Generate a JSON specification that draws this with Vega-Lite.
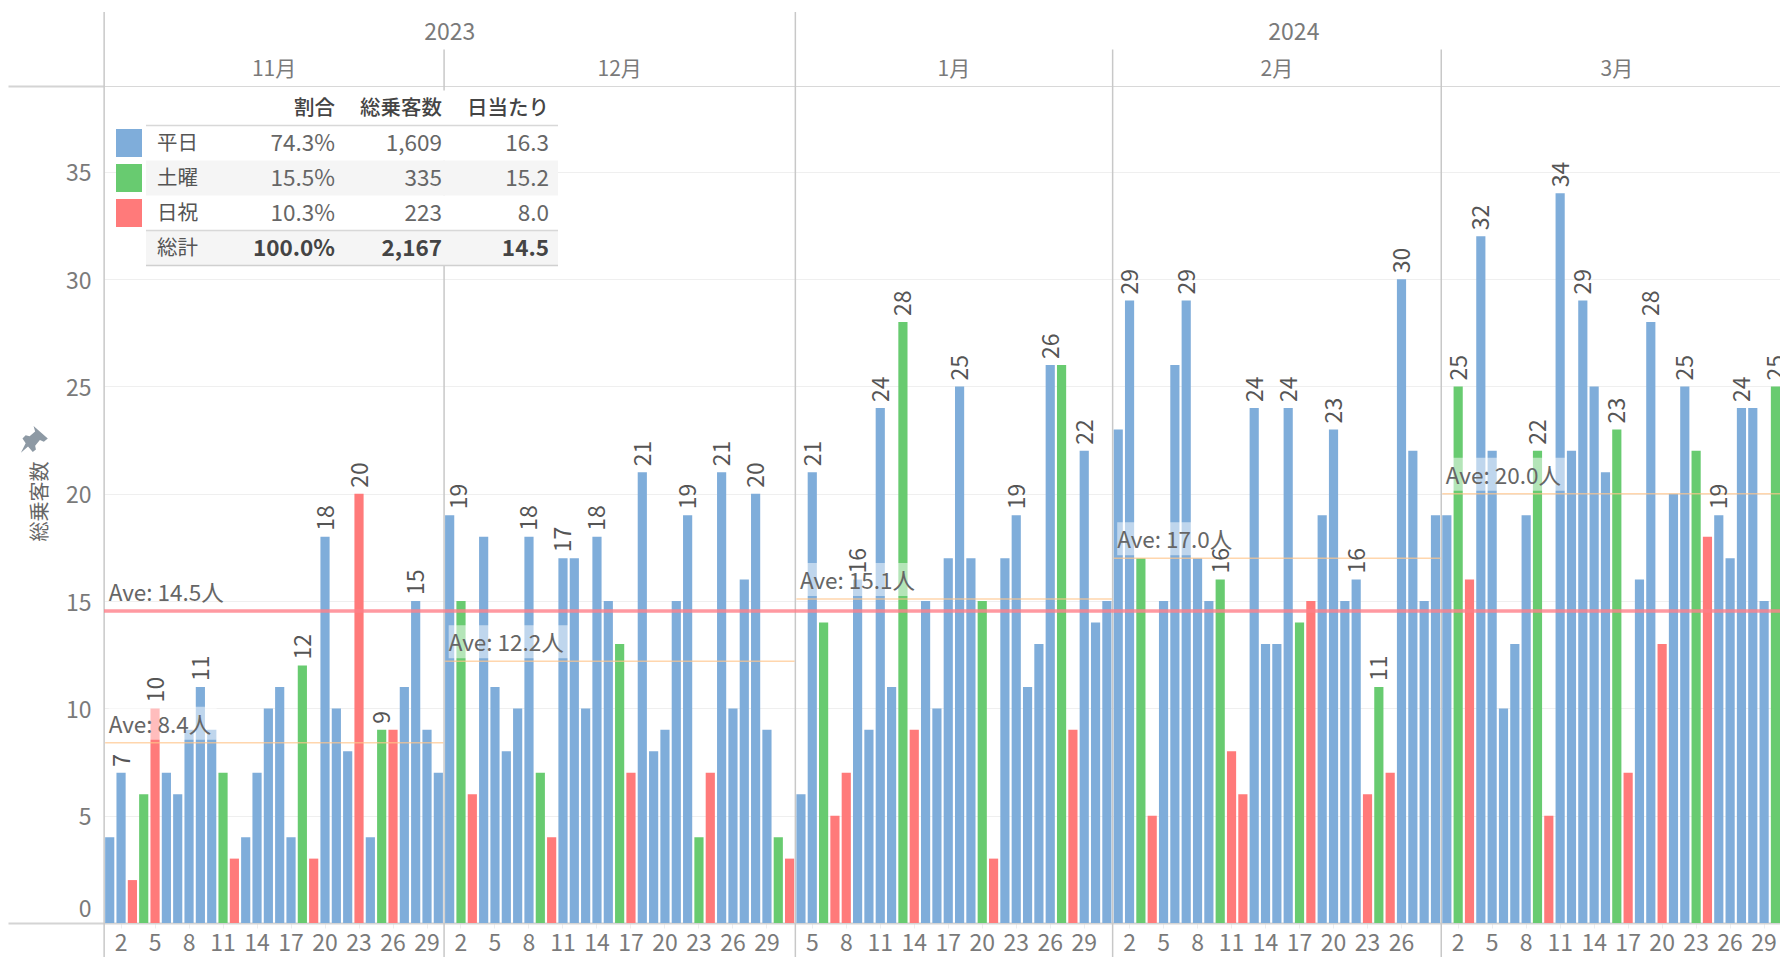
{"$schema":"https://vega.github.io/schema/vega-lite/v6.json","autosize":"none","width":1676,"height":837,"padding":{"left":104,"top":86,"right":0,"bottom":34},"background":"white","config":{"font":"Noto Sans CJK JP","view":{"stroke":null}},"datasets":{"days":[{"day":"2023-11-01","n":4,"k":"平日"},{"day":"2023-11-02","n":7,"k":"平日","lab":1},{"day":"2023-11-03","n":2,"k":"日祝"},{"day":"2023-11-04","n":6,"k":"土曜"},{"day":"2023-11-05","n":10,"k":"日祝","lab":1},{"day":"2023-11-06","n":7,"k":"平日"},{"day":"2023-11-07","n":6,"k":"平日"},{"day":"2023-11-08","n":9,"k":"平日"},{"day":"2023-11-09","n":11,"k":"平日","lab":1},{"day":"2023-11-10","n":9,"k":"平日"},{"day":"2023-11-11","n":7,"k":"土曜"},{"day":"2023-11-12","n":3,"k":"日祝"},{"day":"2023-11-13","n":4,"k":"平日"},{"day":"2023-11-14","n":7,"k":"平日"},{"day":"2023-11-15","n":10,"k":"平日"},{"day":"2023-11-16","n":11,"k":"平日"},{"day":"2023-11-17","n":4,"k":"平日"},{"day":"2023-11-18","n":12,"k":"土曜","lab":1},{"day":"2023-11-19","n":3,"k":"日祝"},{"day":"2023-11-20","n":18,"k":"平日","lab":1},{"day":"2023-11-21","n":10,"k":"平日"},{"day":"2023-11-22","n":8,"k":"平日"},{"day":"2023-11-23","n":20,"k":"日祝","lab":1},{"day":"2023-11-24","n":4,"k":"平日"},{"day":"2023-11-25","n":9,"k":"土曜","lab":1},{"day":"2023-11-26","n":9,"k":"日祝"},{"day":"2023-11-27","n":11,"k":"平日"},{"day":"2023-11-28","n":15,"k":"平日","lab":1},{"day":"2023-11-29","n":9,"k":"平日"},{"day":"2023-11-30","n":7,"k":"平日"},{"day":"2023-12-01","n":19,"k":"平日","lab":2},{"day":"2023-12-02","n":15,"k":"土曜"},{"day":"2023-12-03","n":6,"k":"日祝"},{"day":"2023-12-04","n":18,"k":"平日"},{"day":"2023-12-05","n":11,"k":"平日"},{"day":"2023-12-06","n":8,"k":"平日"},{"day":"2023-12-07","n":10,"k":"平日"},{"day":"2023-12-08","n":18,"k":"平日","lab":1},{"day":"2023-12-09","n":7,"k":"土曜"},{"day":"2023-12-10","n":4,"k":"日祝"},{"day":"2023-12-11","n":17,"k":"平日","lab":1},{"day":"2023-12-12","n":17,"k":"平日"},{"day":"2023-12-13","n":10,"k":"平日"},{"day":"2023-12-14","n":18,"k":"平日","lab":1},{"day":"2023-12-15","n":15,"k":"平日"},{"day":"2023-12-16","n":13,"k":"土曜"},{"day":"2023-12-17","n":7,"k":"日祝"},{"day":"2023-12-18","n":21,"k":"平日","lab":1},{"day":"2023-12-19","n":8,"k":"平日"},{"day":"2023-12-20","n":9,"k":"平日"},{"day":"2023-12-21","n":15,"k":"平日"},{"day":"2023-12-22","n":19,"k":"平日","lab":1},{"day":"2023-12-23","n":4,"k":"土曜"},{"day":"2023-12-24","n":7,"k":"日祝"},{"day":"2023-12-25","n":21,"k":"平日","lab":1},{"day":"2023-12-26","n":10,"k":"平日"},{"day":"2023-12-27","n":16,"k":"平日"},{"day":"2023-12-28","n":20,"k":"平日","lab":1},{"day":"2023-12-29","n":9,"k":"平日"},{"day":"2023-12-30","n":4,"k":"土曜"},{"day":"2023-12-31","n":3,"k":"日祝"},{"day":"2024-01-04","n":6,"k":"平日"},{"day":"2024-01-05","n":21,"k":"平日","lab":1},{"day":"2024-01-06","n":14,"k":"土曜"},{"day":"2024-01-07","n":5,"k":"日祝"},{"day":"2024-01-08","n":7,"k":"日祝"},{"day":"2024-01-09","n":16,"k":"平日","lab":1},{"day":"2024-01-10","n":9,"k":"平日"},{"day":"2024-01-11","n":24,"k":"平日","lab":1},{"day":"2024-01-12","n":11,"k":"平日"},{"day":"2024-01-13","n":28,"k":"土曜","lab":1},{"day":"2024-01-14","n":9,"k":"日祝"},{"day":"2024-01-15","n":15,"k":"平日"},{"day":"2024-01-16","n":10,"k":"平日"},{"day":"2024-01-17","n":17,"k":"平日"},{"day":"2024-01-18","n":25,"k":"平日","lab":1},{"day":"2024-01-19","n":17,"k":"平日"},{"day":"2024-01-20","n":15,"k":"土曜"},{"day":"2024-01-21","n":3,"k":"日祝"},{"day":"2024-01-22","n":17,"k":"平日"},{"day":"2024-01-23","n":19,"k":"平日","lab":1},{"day":"2024-01-24","n":11,"k":"平日"},{"day":"2024-01-25","n":13,"k":"平日"},{"day":"2024-01-26","n":26,"k":"平日","lab":1},{"day":"2024-01-27","n":26,"k":"土曜"},{"day":"2024-01-28","n":9,"k":"日祝"},{"day":"2024-01-29","n":22,"k":"平日","lab":1},{"day":"2024-01-30","n":14,"k":"平日"},{"day":"2024-01-31","n":15,"k":"平日"},{"day":"2024-02-01","n":23,"k":"平日"},{"day":"2024-02-02","n":29,"k":"平日","lab":1},{"day":"2024-02-03","n":17,"k":"土曜"},{"day":"2024-02-04","n":5,"k":"日祝"},{"day":"2024-02-05","n":15,"k":"平日"},{"day":"2024-02-06","n":26,"k":"平日"},{"day":"2024-02-07","n":29,"k":"平日","lab":1},{"day":"2024-02-08","n":17,"k":"平日"},{"day":"2024-02-09","n":15,"k":"平日"},{"day":"2024-02-10","n":16,"k":"土曜","lab":1},{"day":"2024-02-11","n":8,"k":"日祝"},{"day":"2024-02-12","n":6,"k":"日祝"},{"day":"2024-02-13","n":24,"k":"平日","lab":1},{"day":"2024-02-14","n":13,"k":"平日"},{"day":"2024-02-15","n":13,"k":"平日"},{"day":"2024-02-16","n":24,"k":"平日","lab":1},{"day":"2024-02-17","n":14,"k":"土曜"},{"day":"2024-02-18","n":15,"k":"日祝"},{"day":"2024-02-19","n":19,"k":"平日"},{"day":"2024-02-20","n":23,"k":"平日","lab":1},{"day":"2024-02-21","n":15,"k":"平日"},{"day":"2024-02-22","n":16,"k":"平日","lab":1},{"day":"2024-02-23","n":6,"k":"日祝"},{"day":"2024-02-24","n":11,"k":"土曜","lab":1},{"day":"2024-02-25","n":7,"k":"日祝"},{"day":"2024-02-26","n":30,"k":"平日","lab":1},{"day":"2024-02-27","n":22,"k":"平日"},{"day":"2024-02-28","n":15,"k":"平日"},{"day":"2024-02-29","n":19,"k":"平日"},{"day":"2024-03-01","n":19,"k":"平日"},{"day":"2024-03-02","n":25,"k":"土曜","lab":1},{"day":"2024-03-03","n":16,"k":"日祝"},{"day":"2024-03-04","n":32,"k":"平日","lab":1},{"day":"2024-03-05","n":22,"k":"平日"},{"day":"2024-03-06","n":10,"k":"平日"},{"day":"2024-03-07","n":13,"k":"平日"},{"day":"2024-03-08","n":19,"k":"平日"},{"day":"2024-03-09","n":22,"k":"土曜","lab":1},{"day":"2024-03-10","n":5,"k":"日祝"},{"day":"2024-03-11","n":34,"k":"平日","lab":1},{"day":"2024-03-12","n":22,"k":"平日"},{"day":"2024-03-13","n":29,"k":"平日","lab":1},{"day":"2024-03-14","n":25,"k":"平日"},{"day":"2024-03-15","n":21,"k":"平日"},{"day":"2024-03-16","n":23,"k":"土曜","lab":1},{"day":"2024-03-17","n":7,"k":"日祝"},{"day":"2024-03-18","n":16,"k":"平日"},{"day":"2024-03-19","n":28,"k":"平日","lab":1},{"day":"2024-03-20","n":13,"k":"日祝"},{"day":"2024-03-21","n":20,"k":"平日"},{"day":"2024-03-22","n":25,"k":"平日","lab":1},{"day":"2024-03-23","n":22,"k":"土曜"},{"day":"2024-03-24","n":18,"k":"日祝"},{"day":"2024-03-25","n":19,"k":"平日","lab":1},{"day":"2024-03-26","n":17,"k":"平日"},{"day":"2024-03-27","n":24,"k":"平日","lab":1},{"day":"2024-03-28","n":24,"k":"平日"},{"day":"2024-03-29","n":15,"k":"平日"},{"day":"2024-03-30","n":25,"k":"土曜","lab":1},{"day":"2024-03-31","n":10,"k":"日祝"}],"aves":[{"start":"2023-11-01","end":"2023-11-30","labelEnd":"2023-11-10","ave":8.4,"text":"Ave: 8.4人"},{"start":"2023-12-01","end":"2023-12-31","labelEnd":"2023-12-11","ave":12.2,"text":"Ave: 12.2人"},{"start":"2024-01-04","end":"2024-01-31","labelEnd":"2024-01-13","ave":15.1,"text":"Ave: 15.1人"},{"start":"2024-02-01","end":"2024-02-29","labelEnd":"2024-02-10","ave":17.0,"text":"Ave: 17.0人"},{"start":"2024-03-01","end":"2024-03-31","labelEnd":"2024-03-11","ave":20.0,"text":"Ave: 20.0人"}],"table":[{"row":"見出し","label":"","割合":"割合","総乗客数":"総乗客数","日当たり":"日当たり"},{"row":"平日","label":"平日","割合":"74.3%","総乗客数":"1,609","日当たり":"16.3"},{"row":"土曜","label":"土曜","割合":"15.5%","総乗客数":"335","日当たり":"15.2"},{"row":"日祝","label":"日祝","割合":"10.3%","総乗客数":"223","日当たり":"8.0"},{"row":"総計","label":"総計","割合":"100.0%","総乗客数":"2,167","日当たり":"14.5"}]},"resolve":{"scale":{"x":"independent","y":"independent"},"axis":{"x":"independent","y":"independent"}},"layer":[{"layer":[{"data":{"name":"days"},"mark":{"type":"bar"},"encoding":{"x":{"field":"day","type":"nominal","scale":{"paddingInner":0.19,"paddingOuter":0.1,"range":[0,1688.5]},"axis":{"title":null,"values":["2023-11-02","2023-11-05","2023-11-08","2023-11-11","2023-11-14","2023-11-17","2023-11-20","2023-11-23","2023-11-26","2023-11-29","2023-12-02","2023-12-05","2023-12-08","2023-12-11","2023-12-14","2023-12-17","2023-12-20","2023-12-23","2023-12-26","2023-12-29","2024-01-05","2024-01-08","2024-01-11","2024-01-14","2024-01-17","2024-01-20","2024-01-23","2024-01-26","2024-01-29","2024-02-02","2024-02-05","2024-02-08","2024-02-11","2024-02-14","2024-02-17","2024-02-20","2024-02-23","2024-02-26","2024-03-02","2024-03-05","2024-03-08","2024-03-11","2024-03-14","2024-03-17","2024-03-20","2024-03-23","2024-03-26","2024-03-29"],"labelExpr":"''+parseInt(slice(datum.value,8))","labelAngle":0,"labelFontSize":23,"labelColor":"#7a7a7a","labelOverlap":false,"labelPadding":4,"ticks":true,"tickSize":5,"tickColor":"#eeeeee","domainColor":"#d4d4d4","domainWidth":2}},"y":{"field":"n","type":"quantitative","scale":{"domain":[0,39],"nice":false},"axis":{"title":"総乗客数","titleFontSize":20,"titleFontWeight":"normal","titleColor":"#666666","titleX":-54,"titleY":415,"values":[0,5,10,15,20,25,30,35,39],"labelExpr":"datum.value==39?'':datum.value","labelFontSize":23,"labelColor":"#7a7a7a","labelPadding":-83,"labelOffset":2,"labelFlush":true,"labelFlushOffset":-4,"tickSize":96,"tickColor":{"condition":{"test":"datum.value==0||datum.value==39","value":"#d4d4d4"},"value":"transparent"},"tickWidth":2,"domain":false,"grid":true,"gridColor":{"condition":{"test":"datum.value==39","value":"#d8d8d8"},"value":"#efefef"}}},"color":{"field":"k","type":"nominal","legend":null,"scale":{"domain":["平日","土曜","日祝"],"range":["#7fadda","#68cb70","#ff7a7a"]}}}},{"data":{"values":[{"at":"2023-11-01"},{"at":"2024-01-04"}]},"mark":{"type":"rule","color":"#c8c8c8","strokeWidth":1.5,"xOffset":-1},"encoding":{"x":{"field":"at","type":"nominal","bandPosition":0},"y":{"datum":42.45},"y2":{"datum":-1.6}}},{"data":{"values":[{"at":"2023-12-01"},{"at":"2024-02-01"},{"at":"2024-03-01"}]},"mark":{"type":"rule","color":"#c8c8c8","strokeWidth":1.5,"xOffset":-1},"encoding":{"x":{"field":"at","type":"nominal","bandPosition":0},"y":{"datum":40.7},"y2":{"datum":-1.6}}},{"data":{"name":"aves"},"mark":{"type":"rule","color":"#ffc48a","strokeWidth":1.5,"opacity":0.7,"x2Offset":5},"encoding":{"x":{"field":"start","type":"nominal","bandPosition":0},"x2":{"field":"end"},"y":{"field":"ave","type":"quantitative"}}},{"data":{"name":"aves"},"mark":{"type":"rect","color":"white","opacity":0.5,"xOffset":-1,"x2Offset":5,"yOffset":-3,"y2Offset":-36},"encoding":{"x":{"field":"start","type":"nominal"},"x2":{"field":"labelEnd"},"y":{"field":"ave","type":"quantitative"},"y2":{"field":"ave"}}},{"data":{"name":"aves"},"mark":{"type":"text","align":"left","baseline":"middle","dx":-1,"dy":-17,"fontSize":22.5,"color":"#666666"},"encoding":{"x":{"field":"start","type":"nominal"},"y":{"field":"ave","type":"quantitative"},"text":{"field":"text"}}},{"data":{"values":[{"ave":14.54,"start":"2023-11-01","text":"Ave: 14.5人"}]},"mark":{"type":"text","align":"left","baseline":"middle","dx":-1,"dy":-17,"fontSize":22.5,"color":"#666666"},"encoding":{"x":{"field":"start","type":"nominal"},"y":{"field":"ave","type":"quantitative"},"text":{"field":"text"}}},{"data":{"values":[{"ave":14.54}]},"mark":{"type":"rule","color":"#ff7f8a","strokeWidth":3.5,"opacity":0.8},"encoding":{"y":{"field":"ave","type":"quantitative"}}},{"data":{"name":"days"},"transform":[{"filter":"datum.lab==1"}],"mark":{"type":"text","angle":270,"align":"left","baseline":"middle","dx":6,"dy":1.5,"fontSize":23,"color":"#555555"},"encoding":{"x":{"field":"day","type":"nominal"},"y":{"field":"n","type":"quantitative"},"text":{"field":"n","type":"quantitative"}}},{"data":{"name":"days"},"transform":[{"filter":"datum.lab==2"}],"mark":{"type":"text","angle":270,"align":"left","baseline":"middle","dx":6,"dy":10,"fontSize":23,"color":"#555555"},"encoding":{"x":{"field":"day","type":"nominal"},"y":{"field":"n","type":"quantitative"},"text":{"field":"n","type":"quantitative"}}},{"data":{"values":[{"h":"2023","d":"2023-12-01"}]},"mark":{"type":"text","fontSize":23,"color":"#7a7a7a"},"encoding":{"x":{"field":"d","type":"nominal"},"y":{"datum":41.45},"text":{"field":"h"}}},{"data":{"values":[{"h":"2024","d":"2024-02-17"}]},"mark":{"type":"text","fontSize":23,"color":"#7a7a7a","dx":-5.66},"encoding":{"x":{"field":"d","type":"nominal"},"y":{"datum":41.45},"text":{"field":"h"}}},{"data":{"values":[{"h":"12月","d":"2023-12-16"},{"h":"2月","d":"2024-02-15"},{"h":"3月","d":"2024-03-16"}]},"mark":{"type":"text","fontSize":21,"color":"#7a7a7a"},"encoding":{"x":{"field":"d","type":"nominal"},"y":{"datum":39.75},"text":{"field":"h"}}},{"data":{"values":[{"h":"11月","d":"2023-11-16"},{"h":"1月","d":"2024-01-18"}]},"mark":{"type":"text","fontSize":21,"color":"#7a7a7a","dx":-5.66},"encoding":{"x":{"field":"d","type":"nominal"},"y":{"datum":39.75},"text":{"field":"h"}}},{"data":{"values":[{"p":"pin"}]},"mark":{"type":"point","filled":true,"color":"#5d6d7e","size":1000,"xOffset":-73,"shape":"M -0.2 -0.9 L 0.7 -0.1 L 0.45 0.1 L 0.2 0 L -0.1 0.35 L -0.05 0.6 L -0.25 0.75 L -0.55 0.4 L -1 0.8 L -0.7 0.2 L -0.9 -0.1 L -0.7 -0.3 L -0.45 -0.25 L -0.1 -0.55 L -0.2 -0.9 Z"},"encoding":{"x":{"datum":"2023-11-01","type":"nominal"},"y":{"datum":22.5}}}]},{"layer":[{"data":{"name":"table"},"mark":{"type":"rect","color":"white"},"encoding":{"x":{"datum":12,"type":"quantitative","scale":{"domain":[0,1676],"range":[0,1676],"nice":false},"axis":null},"x2":{"datum":454},"y":{"field":"row","type":"nominal","sort":null,"scale":{"domain":["見出し","平日","土曜","日祝","総計"],"range":[4.5,179.5],"paddingInner":0,"paddingOuter":0},"axis":null}}},{"data":{"name":"table"},"transform":[{"filter":"datum.row=='土曜'||datum.row=='総計'"}],"mark":{"type":"rect","color":"#f5f5f5"},"encoding":{"x":{"datum":42,"type":"quantitative"},"x2":{"datum":454},"y":{"field":"row","type":"nominal"}}},{"data":{"name":"table"},"transform":[{"filter":"datum.row!='見出し'&&datum.row!='総計'"}],"mark":{"type":"bar","height":28},"encoding":{"x":{"datum":12,"type":"quantitative"},"x2":{"datum":38},"y":{"field":"row","type":"nominal"},"color":{"field":"row","type":"nominal","legend":null}}},{"data":{"name":"table"},"transform":[{"filter":"datum.row=='平日'||datum.row=='総計'"}],"mark":{"type":"rule","color":"#d8d8d8","strokeWidth":1.5},"encoding":{"x":{"datum":42,"type":"quantitative"},"x2":{"datum":454},"y":{"field":"row","type":"nominal","bandPosition":0}}},{"data":{"name":"table"},"transform":[{"filter":"datum.row=='総計'"}],"mark":{"type":"rule","color":"#d0d0d0","strokeWidth":1.5},"encoding":{"x":{"datum":42,"type":"quantitative"},"x2":{"datum":454},"y":{"field":"row","type":"nominal","bandPosition":1}}},{"data":{"name":"table"},"mark":{"type":"text","align":"left","dy":1,"fontSize":20.5,"color":"#555555"},"encoding":{"x":{"datum":53,"type":"quantitative"},"y":{"field":"row","type":"nominal"},"text":{"field":"label"}}},{"data":{"name":"table"},"transform":[{"filter":"datum.row=='見出し'"}],"mark":{"type":"text","align":"right","dy":1,"fontSize":20.5,"fontWeight":500,"color":"#444444"},"encoding":{"x":{"datum":231,"type":"quantitative"},"y":{"field":"row","type":"nominal"},"text":{"field":"割合"}}},{"data":{"name":"table"},"transform":[{"filter":"datum.row=='見出し'"}],"mark":{"type":"text","align":"right","dy":1,"fontSize":20.5,"fontWeight":500,"color":"#444444"},"encoding":{"x":{"datum":338,"type":"quantitative"},"y":{"field":"row","type":"nominal"},"text":{"field":"総乗客数"}}},{"data":{"name":"table"},"transform":[{"filter":"datum.row=='見出し'"}],"mark":{"type":"text","align":"right","dy":1,"fontSize":20.5,"fontWeight":500,"color":"#444444"},"encoding":{"x":{"datum":445,"type":"quantitative"},"y":{"field":"row","type":"nominal"},"text":{"field":"日当たり"}}},{"data":{"name":"table"},"transform":[{"filter":"datum.row!='総計'&&datum.row!='見出し'"}],"mark":{"type":"text","align":"right","dy":1,"fontSize":22.5,"color":"#666666"},"encoding":{"x":{"datum":231,"type":"quantitative"},"y":{"field":"row","type":"nominal"},"text":{"field":"割合"}}},{"data":{"name":"table"},"transform":[{"filter":"datum.row!='総計'&&datum.row!='見出し'"}],"mark":{"type":"text","align":"right","dy":1,"fontSize":22.5,"color":"#666666"},"encoding":{"x":{"datum":338,"type":"quantitative"},"y":{"field":"row","type":"nominal"},"text":{"field":"総乗客数"}}},{"data":{"name":"table"},"transform":[{"filter":"datum.row!='総計'&&datum.row!='見出し'"}],"mark":{"type":"text","align":"right","dy":1,"fontSize":22.5,"color":"#666666"},"encoding":{"x":{"datum":445,"type":"quantitative"},"y":{"field":"row","type":"nominal"},"text":{"field":"日当たり"}}},{"data":{"name":"table"},"transform":[{"filter":"datum.row=='総計'"}],"mark":{"type":"text","align":"right","dy":1,"fontSize":22.5,"fontWeight":"bold","color":"#444444"},"encoding":{"x":{"datum":231,"type":"quantitative"},"y":{"field":"row","type":"nominal"},"text":{"field":"割合"}}},{"data":{"name":"table"},"transform":[{"filter":"datum.row=='総計'"}],"mark":{"type":"text","align":"right","dy":1,"fontSize":22.5,"fontWeight":"bold","color":"#444444"},"encoding":{"x":{"datum":338,"type":"quantitative"},"y":{"field":"row","type":"nominal"},"text":{"field":"総乗客数"}}},{"data":{"name":"table"},"transform":[{"filter":"datum.row=='総計'"}],"mark":{"type":"text","align":"right","dy":1,"fontSize":22.5,"fontWeight":"bold","color":"#444444"},"encoding":{"x":{"datum":445,"type":"quantitative"},"y":{"field":"row","type":"nominal"},"text":{"field":"日当たり"}}}]}]}
